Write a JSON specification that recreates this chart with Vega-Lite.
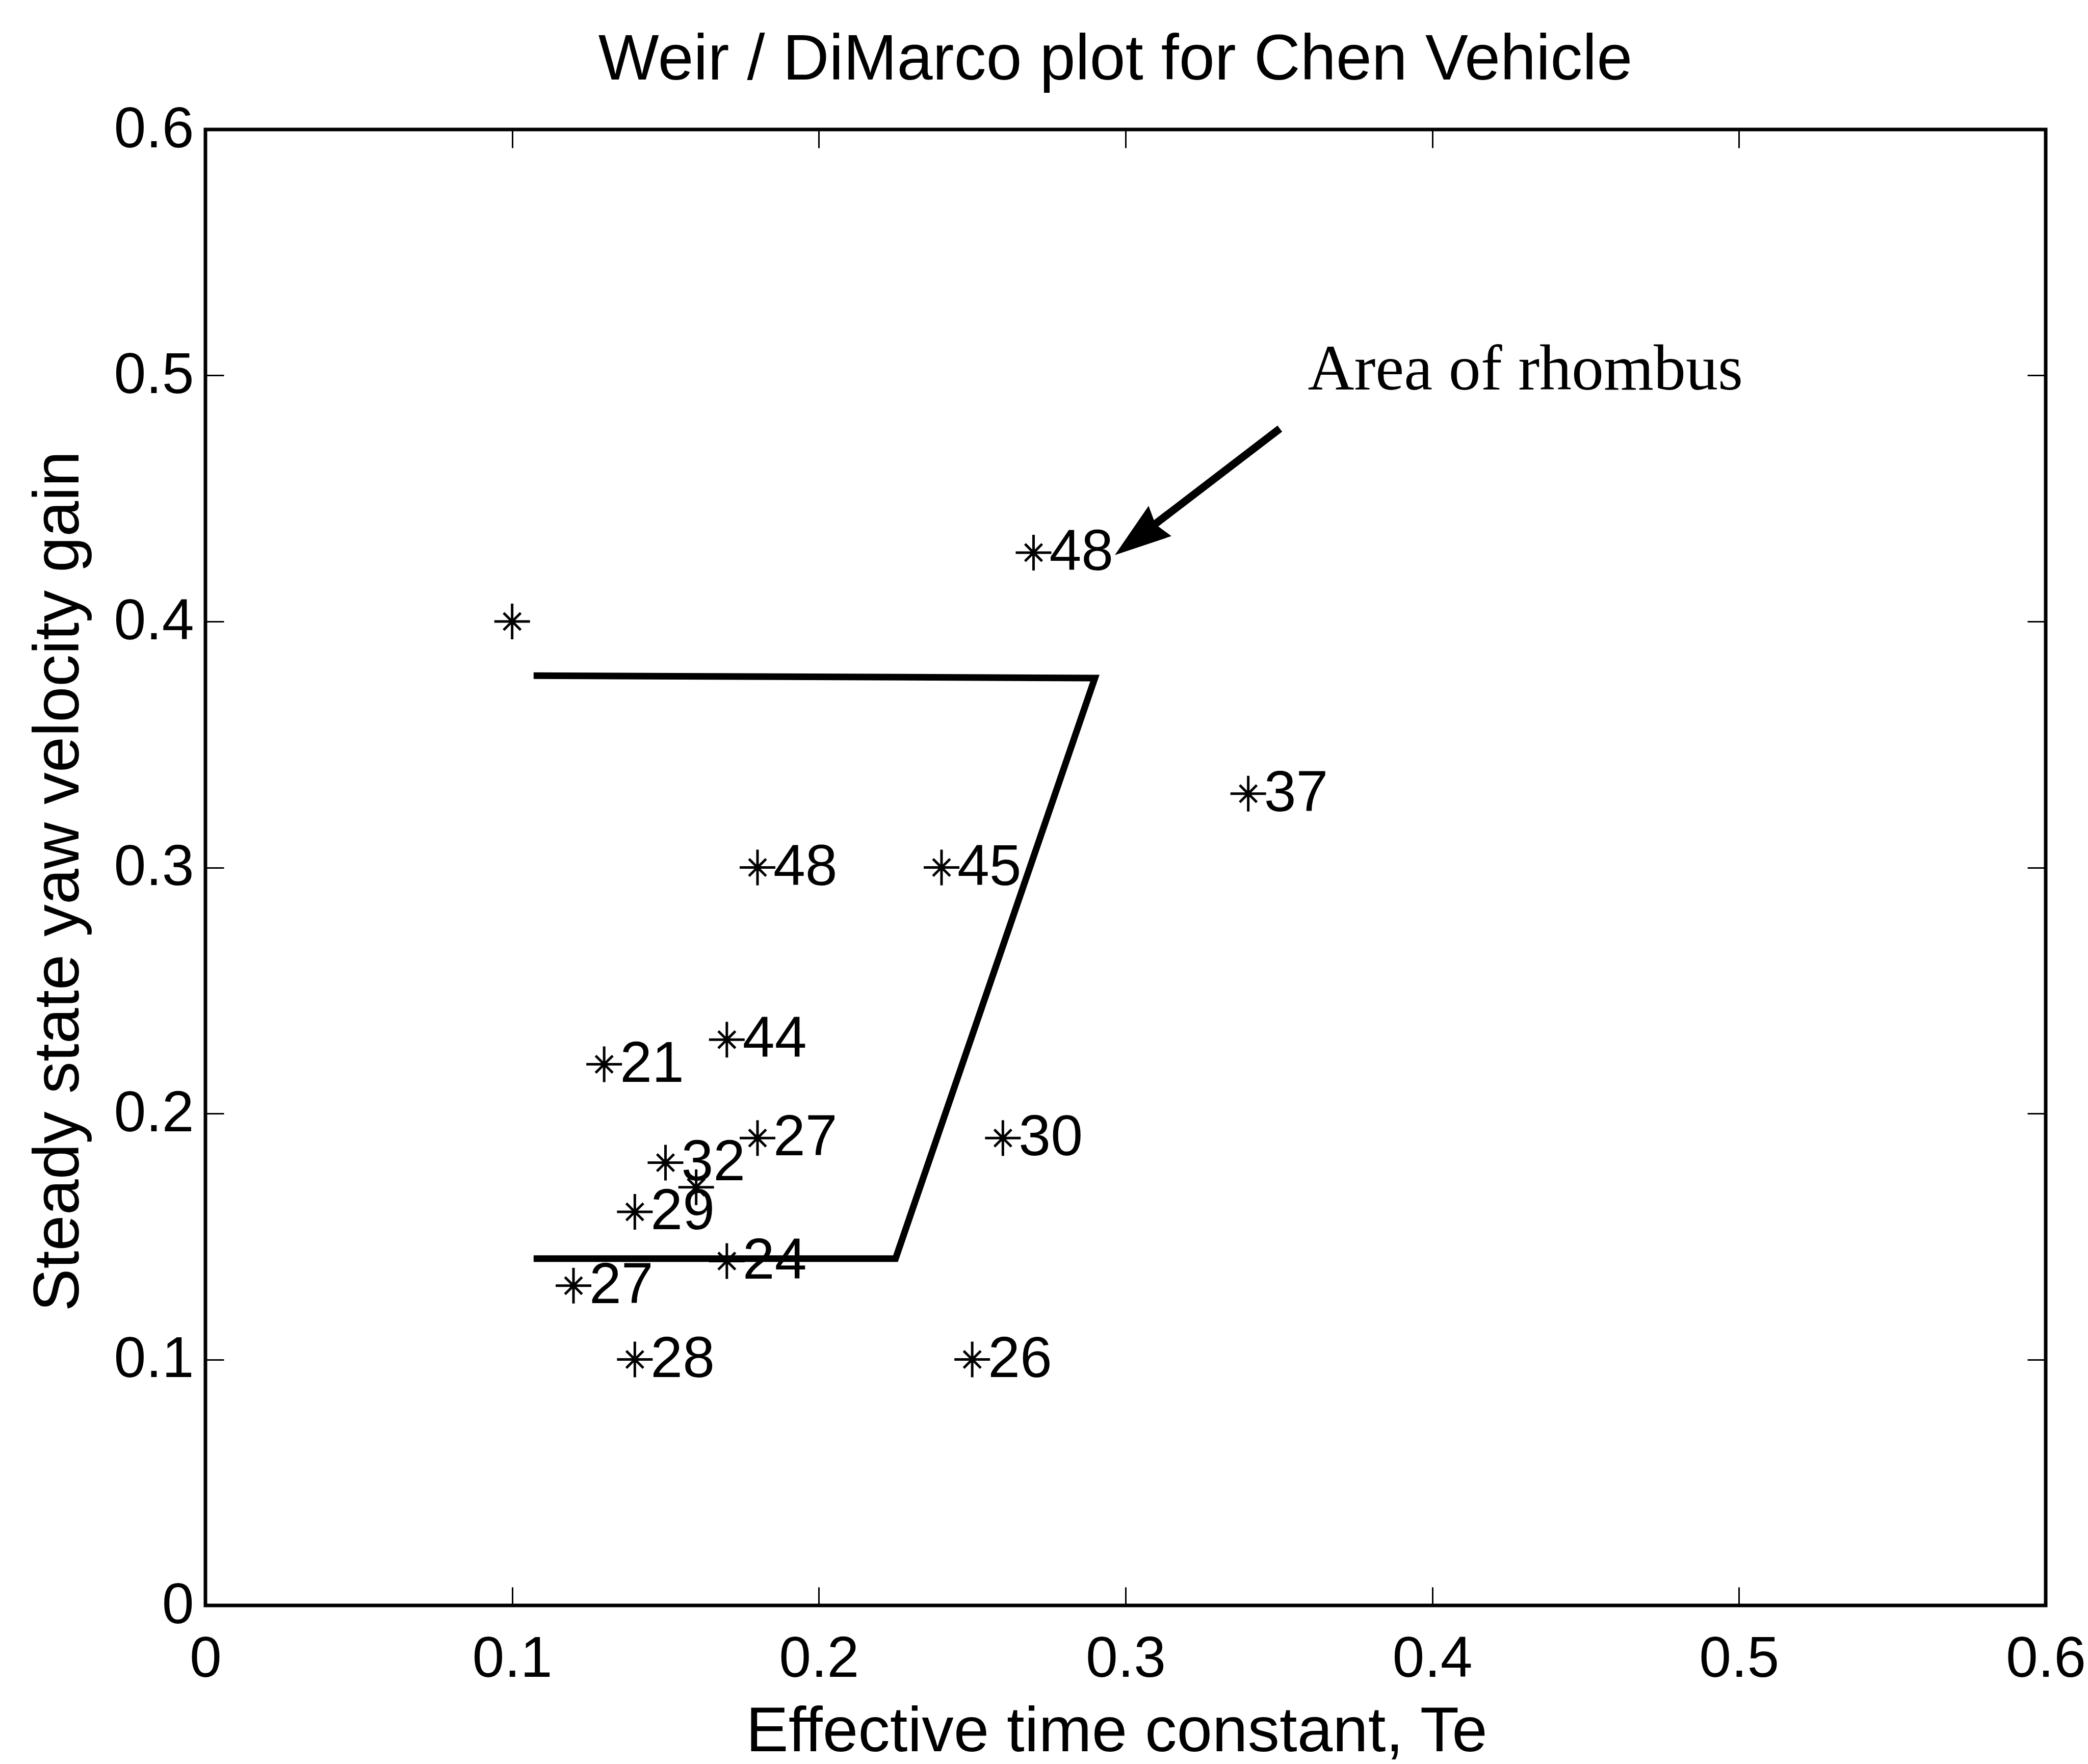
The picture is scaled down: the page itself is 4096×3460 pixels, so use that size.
{
  "$schema": "https://vega.github.io/schema/vega-lite/v6.json",
  "width": 3610,
  "height": 2895,
  "autosize": {"type": "none"},
  "padding": {"left": 403, "top": 254, "right": 83, "bottom": 311},
  "background": "white",
  "config": {
    "view": {"stroke": "black", "strokeWidth": 7, "fill": "white"},
    "font": "Liberation Sans",
    "axis": {
      "grid": false,
      "domain": false,
      "labelFont": "Liberation Sans",
      "titleFont": "Liberation Sans",
      "labelColor": "black",
      "titleColor": "black",
      "tickColor": "black",
      "titleFontWeight": "normal",
      "labelFlush": false,
      "labelOverlap": false
    }
  },
  "title": {
    "text": "Weir / DiMarco plot for Chen Vehicle",
    "fontSize": 126,
    "font": "Liberation Sans",
    "fontWeight": "normal",
    "color": "black",
    "anchor": "middle",
    "baseline": "alphabetic",
    "offset": -84,
    "dx": -20
  },
  "datasets": {
    "stars": [
      {"Te": 0.10, "gain": 0.40, "label": ""},
      {"Te": 0.27, "gain": 0.428, "label": "48"},
      {"Te": 0.34, "gain": 0.33, "label": "37"},
      {"Te": 0.18, "gain": 0.30, "label": "48"},
      {"Te": 0.24, "gain": 0.30, "label": "45"},
      {"Te": 0.17, "gain": 0.23, "label": "44"},
      {"Te": 0.13, "gain": 0.22, "label": "21"},
      {"Te": 0.18, "gain": 0.19, "label": "27"},
      {"Te": 0.26, "gain": 0.19, "label": "30"},
      {"Te": 0.15, "gain": 0.18, "label": "32"},
      {"Te": 0.16, "gain": 0.17, "label": ""},
      {"Te": 0.14, "gain": 0.16, "label": "29"},
      {"Te": 0.17, "gain": 0.14, "label": "24"},
      {"Te": 0.12, "gain": 0.13, "label": "27"},
      {"Te": 0.14, "gain": 0.10, "label": "28"},
      {"Te": 0.25, "gain": 0.10, "label": "26"}
    ],
    "boundary": [
      {"Te": 0.107, "gain": 0.378, "order": 1},
      {"Te": 0.29, "gain": 0.377, "order": 2},
      {"Te": 0.225, "gain": 0.141, "order": 3},
      {"Te": 0.107, "gain": 0.141, "order": 4}
    ],
    "shaft": [
      {"Te": 0.3503, "gain": 0.4784, "Te2": 0.309, "gain2": 0.439}
    ],
    "head": [
      {"Te": 0.2965, "gain": 0.427}
    ],
    "note": [
      {"Te": 0.3594, "gain": 0.4943, "text": "Area of rhombus"}
    ]
  },
  "resolve": {"axis": {"x": "independent", "y": "independent"}},
  "layer": [
    {
      "data": {"name": "boundary"},
      "mark": {"type": "line", "stroke": "black", "strokeWidth": 13, "strokeJoin": "miter", "strokeCap": "butt"},
      "encoding": {
        "x": {"field": "Te", "type": "quantitative", "scale": {"domain": [0, 0.6], "nice": false, "zero": false},
          "axis": {"orient": "top", "labels": false, "ticks": true, "tickSize": -36, "tickWidth": 3, "values": [0, 0.1, 0.2, 0.3, 0.4, 0.5, 0.6], "title": null}},
        "y": {"field": "gain", "type": "quantitative", "scale": {"domain": [0, 0.6], "nice": false, "zero": false},
          "axis": {"orient": "right", "labels": false, "ticks": true, "tickSize": -36, "tickWidth": 3, "values": [0, 0.1, 0.2, 0.3, 0.4, 0.5, 0.6], "title": null}},
        "order": {"field": "order", "type": "quantitative"}
      }
    },
    {
      "data": {"name": "stars"},
      "mark": {"type": "point", "shape": "M-1,0L1,0M0,-1L0,1M-0.48,-0.48L0.48,0.48M-0.48,0.48L0.48,-0.48", "filled": false, "stroke": "black", "strokeWidth": 5, "size": 4900, "opacity": 1},
      "encoding": {
        "x": {"field": "Te", "type": "quantitative", "scale": {"domain": [0, 0.6], "nice": false, "zero": false},
          "axis": {"orient": "bottom", "ticks": false, "labelPadding": 50, "labelFontSize": 113, "values": [0, 0.1, 0.2, 0.3, 0.4, 0.5, 0.6], "format": "~g",
            "title": "Effective time constant, Te", "titleFontSize": 125, "titleX": 1787, "titleY": 285, "titleBaseline": "alphabetic"}},
        "y": {"field": "gain", "type": "quantitative", "scale": {"domain": [0, 0.6], "nice": false, "zero": false},
          "axis": {"orient": "left", "ticks": false, "labelPadding": 23, "labelFontSize": 113, "values": [0, 0.1, 0.2, 0.3, 0.4, 0.5, 0.6], "format": "~g",
            "title": "Steady state yaw velocity gain", "titleFontSize": 126, "titleX": -250, "titleY": 1474, "titleBaseline": "alphabetic", "titleAngle": 270}}
      }
    },
    {
      "data": {"name": "stars"},
      "transform": [{"filter": "datum.label != ''"}],
      "mark": {"type": "text", "align": "left", "baseline": "middle", "dx": 31, "fontSize": 113, "font": "Liberation Sans", "color": "black"},
      "encoding": {
        "x": {"field": "Te", "type": "quantitative", "scale": {"domain": [0, 0.6], "nice": false, "zero": false},
          "axis": {"orient": "bottom", "labels": false, "ticks": true, "tickSize": -36, "tickWidth": 3, "values": [0, 0.1, 0.2, 0.3, 0.4, 0.5, 0.6], "title": null}},
        "y": {"field": "gain", "type": "quantitative", "scale": {"domain": [0, 0.6], "nice": false, "zero": false},
          "axis": {"orient": "left", "labels": false, "ticks": true, "tickSize": -36, "tickWidth": 3, "values": [0, 0.1, 0.2, 0.3, 0.4, 0.5, 0.6], "title": null}},
        "text": {"field": "label", "type": "nominal"}
      }
    },
    {
      "data": {"name": "shaft"},
      "mark": {"type": "rule", "stroke": "black", "strokeWidth": 15, "strokeCap": "butt"},
      "encoding": {
        "x": {"field": "Te", "type": "quantitative", "axis": null},
        "y": {"field": "gain", "type": "quantitative", "axis": null},
        "x2": {"field": "Te2"},
        "y2": {"field": "gain2"}
      }
    },
    {
      "data": {"name": "head"},
      "mark": {"type": "point", "shape": "M0,0L0.67,2L0,1.8L-0.67,2Z", "filled": true, "fill": "black", "strokeWidth": 0, "size": 12321, "angle": 233, "opacity": 1},
      "encoding": {
        "x": {"field": "Te", "type": "quantitative", "axis": null},
        "y": {"field": "gain", "type": "quantitative", "axis": null}
      }
    },
    {
      "data": {"name": "note"},
      "mark": {"type": "text", "align": "left", "baseline": "alphabetic", "fontSize": 126, "font": "Liberation Serif", "color": "black"},
      "encoding": {
        "x": {"field": "Te", "type": "quantitative", "axis": null},
        "y": {"field": "gain", "type": "quantitative", "axis": null},
        "text": {"field": "text", "type": "nominal"}
      }
    }
  ]
}
